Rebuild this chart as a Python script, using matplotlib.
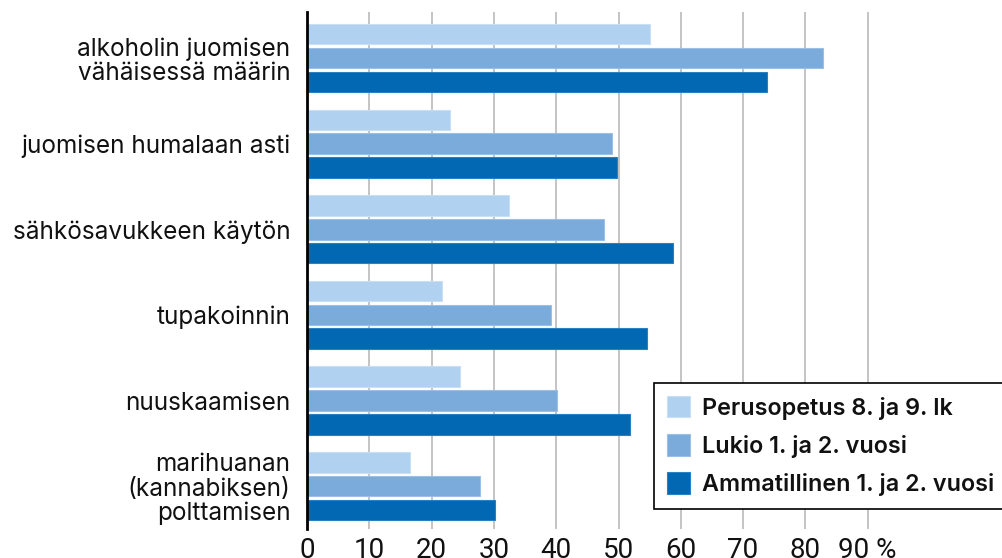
import numpy as np
import matplotlib
matplotlib.use('Agg')
import matplotlib.pyplot as plt

# categories (top to bottom) and values, in %
categories = ['alkoholin juomisen\nvähäisessä määrin',
              'juomisen humalaan asti',
              'sähkösavukkeen käytön',
              'tupakoinnin',
              'nuuskaamisen',
              'marihuanan\n(kannabiksen)\npolttamisen']
perusopetus = [55.1, 22.9, 32.5, 21.6, 24.6, 16.5]
lukio = [82.8, 49.0, 47.6, 39.2, 40.1, 27.8]
ammatillinen = [73.8, 49.7, 58.8, 54.6, 51.9, 30.2]

series_names = ['Perusopetus 8. ja 9. lk', 'Lukio 1. ja 2. vuosi',
                'Ammatillinen 1. ja 2. vuosi']
colors = ['#b0d1ef', '#7aabdb', '#0268b3']
edges = ['#c8dff4', '#9cc0e5', '#2a80c0']

xticks = [0, 10, 20, 30, 40, 50, 60, 70, 80, 90]
xticklabels = ['0', '10', '20', '30', '40', '50', '60', '70', '80', '90 %']

W, H = 1002, 558
fig = plt.figure(figsize=(W / 100, H / 100), dpi=100)
ax = fig.add_axes([307 / W, 1 - 529 / H, (W - 307) / W, (529 - 12) / H])

y = np.arange(len(categories))
off = 0.278
h = 0.24
for i, vals in enumerate([perusopetus, lukio, ammatillinen]):
    ax.barh(y + (i - 1) * off, vals, height=h, color=colors[i],
            edgecolor=edges[i], linewidth=0.8, label=series_names[i], zorder=2)

ax.set_xlim(0, (W - 307) / 6.23)
ax.set_ylim(5.5, -0.537)

ax.set_xticks(xticks)
ax.set_xticklabels(xticklabels, family=['Liberation Sans Narrow', 'Roboto'],
                   fontsize=20, color='#111111')
ax.set_yticks(y)
ax.set_yticklabels(categories, family='Inter', fontsize=17.5, color='#111111',
                   linespacing=1.07)
ax.tick_params(axis='x', length=0, pad=6)
ax.tick_params(axis='y', length=0, pad=12)

ax.grid(axis='x', color='#c4c4c4', linewidth=1.4, zorder=0)
for s in ['top', 'right', 'bottom']:
    ax.spines[s].set_visible(False)
ax.spines['left'].set_color('black')
ax.spines['left'].set_linewidth(2)
ax.spines['left'].set_zorder(3)

leg = ax.legend(loc='upper left', bbox_to_anchor=(654 / W, 1 - 383 / H),
                bbox_transform=fig.transFigure, borderaxespad=0,
                fancybox=False, framealpha=1, edgecolor='black',
                prop={'family': 'Inter', 'weight': 'semibold', 'size': 16.8},
                handlelength=1.0, handleheight=1.05, handletextpad=0.5,
                labelspacing=0.62, borderpad=0.55)
leg.get_frame().set_linewidth(1.2)
for t in leg.get_texts():
    t.set_color('#111111')

fig.savefig('out.png', dpi=100)
